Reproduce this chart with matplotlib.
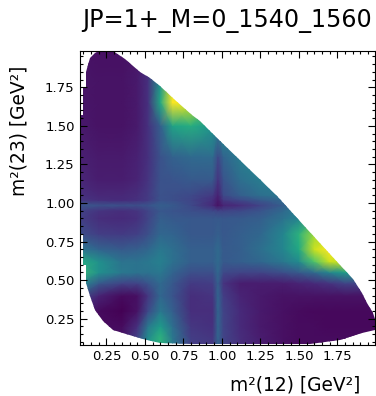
# dalitz plot intensity

import numpy as np
import matplotlib.pyplot as plt
from matplotlib.patches import Polygon
from matplotlib.ticker import MultipleLocator

x_nodes = [0.07, 0.2, 0.35, 0.45, 0.52, 0.6, 0.68, 0.8, 0.94, 0.975, 1.01, 1.12, 1.25, 1.4, 1.5, 1.6, 1.7, 1.8, 2.0]
y_nodes = [0.07, 0.12, 0.2, 0.3, 0.4, 0.48, 0.55, 0.62, 0.7, 0.8, 0.9, 0.95, 0.985, 1.02, 1.05, 1.15, 1.3, 1.5, 1.65, 1.8, 2.0]

# rows go from bottom (y=0.07) to top (y=2.0)
intensity = [
    [.05, .05, .05, .20, .48, .62, .40, .18, .16, .32, .20, .13, .08, .04, .03, .03, .03, .03, .03],
    [.05, .05, .05, .20, .48, .65, .40, .18, .16, .32, .20, .13, .08, .04, .03, .03, .03, .03, .03],
    [.05, .03, .03, .14, .40, .55, .36, .16, .14, .32, .20, .12, .07, .04, .03, .03, .02, .02, .02],
    [.10, .03, .00, .05, .22, .40, .30, .13, .13, .32, .20, .12, .07, .04, .03, .02, .02, .02, .02],
    [.25, .10, .03, .04, .16, .33, .26, .13, .15, .32, .18, .10, .07, .05, .05, .05, .05, .05, .05],
    [.50, .28, .20, .20, .26, .34, .27, .17, .18, .30, .15, .08, .08, .08, .10, .12, .15, .20, .20],
    [.68, .50, .40, .38, .38, .40, .32, .24, .24, .33, .22, .20, .20, .24, .28, .34, .46, .55, .55],
    [.62, .50, .38, .38, .40, .43, .37, .30, .30, .34, .28, .30, .33, .40, .48, .72, .92, .90, .90],
    [.40, .32, .28, .30, .33, .40, .36, .30, .30, .34, .28, .30, .36, .46, .60, .92, 1.0, 1.0, 1.0],
    [.24, .18, .17, .19, .24, .33, .32, .27, .27, .30, .27, .30, .33, .46, .64, .85, .90, .90, .90],
    [.19, .13, .12, .14, .20, .30, .28, .27, .27, .28, .27, .28, .30, .38, .45, .60, .60, .60, .60],
    [.20, .15, .13, .15, .20, .27, .26, .24, .22, .20, .20, .22, .26, .34, .42, .50, .50, .50, .50],
    [.26, .25, .24, .24, .26, .30, .28, .22, .12, .05, .10, .13, .20, .30, .38, .45, .45, .45, .45],
    [.16, .13, .12, .14, .17, .25, .24, .21, .14, .07, .17, .22, .28, .34, .40, .45, .45, .45, .45],
    [.14, .11, .11, .13, .17, .25, .24, .22, .17, .09, .22, .30, .36, .40, .45, .45, .45, .45, .45],
    [.11, .08, .08, .10, .15, .25, .26, .28, .28, .15, .26, .36, .42, .45, .45, .45, .45, .45, .45],
    [.09, .07, .07, .09, .14, .25, .31, .34, .35, .22, .32, .42, .48, .50, .50, .50, .50, .50, .50],
    [.07, .05, .05, .07, .14, .30, .58, .62, .52, .45, .50, .50, .50, .50, .50, .50, .50, .50, .50],
    [.06, .05, .05, .07, .14, .60, 1.0, .95, .70, .70, .70, .70, .70, .70, .70, .70, .70, .70, .70],
    [.06, .05, .05, .07, .14, .50, .95, .90, .70, .70, .70, .70, .70, .70, .70, .70, .70, .70, .70],
    [.05, .04, .04, .06, .12, .30, .60, .80, .70, .70, .70, .70, .70, .70, .70, .70, .70, .70, .70],
]

edge_x = [0.075, 0.075, 0.096, 0.096, 0.115, 0.115, 0.14, 0.175, 0.207, 0.29, 0.37, 0.467, 0.53, 0.60, 0.695,
          0.805, 0.857, 0.96, 1.36, 1.555, 1.77, 1.855, 1.91, 1.945, 1.98, 1.995, 1.995, 1.91, 1.77, 1.57, 0.8,
          0.60, 0.49, 0.38, 0.29, 0.23, 0.175, 0.14, 0.115, 0.115, 0.095, 0.095, 0.075]
edge_y = [0.80, 1.57, 1.57, 1.75, 1.75, 1.85, 1.94, 1.97, 1.985, 1.985, 1.93, 1.85, 1.81, 1.76, 1.67,
          1.57, 1.53, 1.43, 1.045, 0.83, 0.60, 0.507, 0.416, 0.35, 0.285, 0.25, 0.18, 0.155, 0.11, 0.085, 0.085,
          0.09, 0.12, 0.15, 0.18, 0.235, 0.31, 0.40, 0.48, 0.60, 0.60, 0.80, 0.80]

fig = plt.figure(figsize=(3.76, 3.96), dpi=100)
ax = fig.add_axes([79.5 / 376, 1 - 345 / 396, 295.5 / 376, 294 / 396])

mesh = ax.pcolormesh(x_nodes, y_nodes, np.array(intensity), shading='gouraud', cmap='viridis', vmin=0, vmax=1)
region = Polygon(np.column_stack([edge_x, edge_y]), transform=ax.transData, facecolor='none', edgecolor='none')
ax.add_patch(region)
mesh.set_clip_path(region)

ax.set_xlim(0.075, 1.995)
ax.set_ylim(0.08, 1.985)
ax.xaxis.set_major_locator(MultipleLocator(0.25))
ax.yaxis.set_major_locator(MultipleLocator(0.25))
ax.xaxis.set_minor_locator(MultipleLocator(0.05))
ax.yaxis.set_minor_locator(MultipleLocator(0.05))
ax.tick_params(which='both', direction='in', top=True, right=True, width=0.8, labelsize=9.5)
ax.tick_params(which='major', length=5)
ax.tick_params(which='minor', length=2.5)

ax.set_title('JP=1+_M=0_1540_1560', fontsize=17.2, pad=17)
ax.set_xlabel('m²(12) [GeV²]', fontsize=13.4, x=0.73, labelpad=9)
ax.set_ylabel('m²(23) [GeV²]', fontsize=13.4, y=0.73, labelpad=12)

fig.savefig('out.png', dpi=100)
